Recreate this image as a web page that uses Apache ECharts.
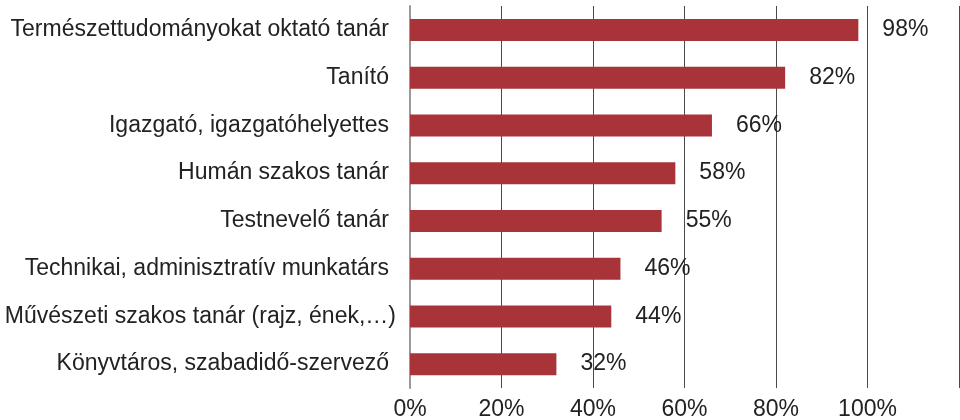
<!DOCTYPE html>
<html>
<head>
<meta charset="utf-8">
<script src="https://cdn.jsdelivr.net/npm/echarts@6/dist/echarts.min.js"></script>
<style>
  html, body { margin: 0; padding: 0; background: #fff; }
  #chart { width: 960px; height: 420px; }
</style>
</head>
<body>
<div id="chart"></div>
<script>
// kategóriák (felülről lefelé)
const categories = [
  "Természettudományokat oktató tanár",
  "Tanító",
  "Igazgató, igazgatóhelyettes",
  "Humán szakos tanár",
  "Testnevelő tanár",
  "Technikai, adminisztratív munkatárs",
  "Művészeti szakos tanár (rajz, ének,…)",
  "Könyvtáros, szabadidő-szervező"
];
const values = [98, 82, 66, 58, 55, 46, 44, 32];
const tickLabels = ["0%", "20%", "40%", "60%", "80%", "100%"];

const font = "'Liberation Sans', Arial, Helvetica, sans-serif";
const chart = echarts.init(document.getElementById("chart"));

chart.setOption({
  animation: false,
  textStyle: { fontFamily: font },
  grid: {
    left: 410, right: 1, top: 6, height: 382,
    containLabel: false,
    outerBoundsMode: "none"
  },
  xAxis: {
    type: "value",
    min: 0,
    max: 120,
    interval: 20,
    axisLine: { show: false },
    axisTick: { show: false },
    splitLine: { show: true, lineStyle: { color: "#4a4a4a", width: 1 } },
    axisLabel: {
      color: "#222",
      fontSize: 23,
      margin: 10,
      fontFamily: font,
      formatter: (v) => tickLabels[v / 20] || ""
    }
  },
  yAxis: {
    type: "category",
    inverse: true,
    data: categories,
    axisLine: { show: true, lineStyle: { color: "#999", width: 2 } },
    axisTick: { show: false },
    axisLabel: {
      color: "#222",
      fontSize: 23,
      margin: 13,
      fontFamily: font,
      // a "Művészeti..." felirat jobbra kilóg a többihez képest
      formatter: (v, i) => (i === 6 ? "{w|" + v + "}" : "{n|" + v + "}"),
      rich: {
        n: { color: "#222", fontSize: 23, fontFamily: font, padding: [0, 8, 0, 0] },
        w: { color: "#222", fontSize: 23, fontFamily: font, padding: [0, 1, 0, 0] }
      }
    }
  },
  series: [
    {
      type: "bar",
      data: values,
      barWidth: 22,
      itemStyle: { color: "#a8343a" },
      label: {
        show: true,
        position: "right",
        distance: 24,
        color: "#222",
        fontSize: 23,
        fontFamily: font,
        formatter: (p) => p.value + "%"
      }
    }
  ]
});
</script>
</body>
</html>
